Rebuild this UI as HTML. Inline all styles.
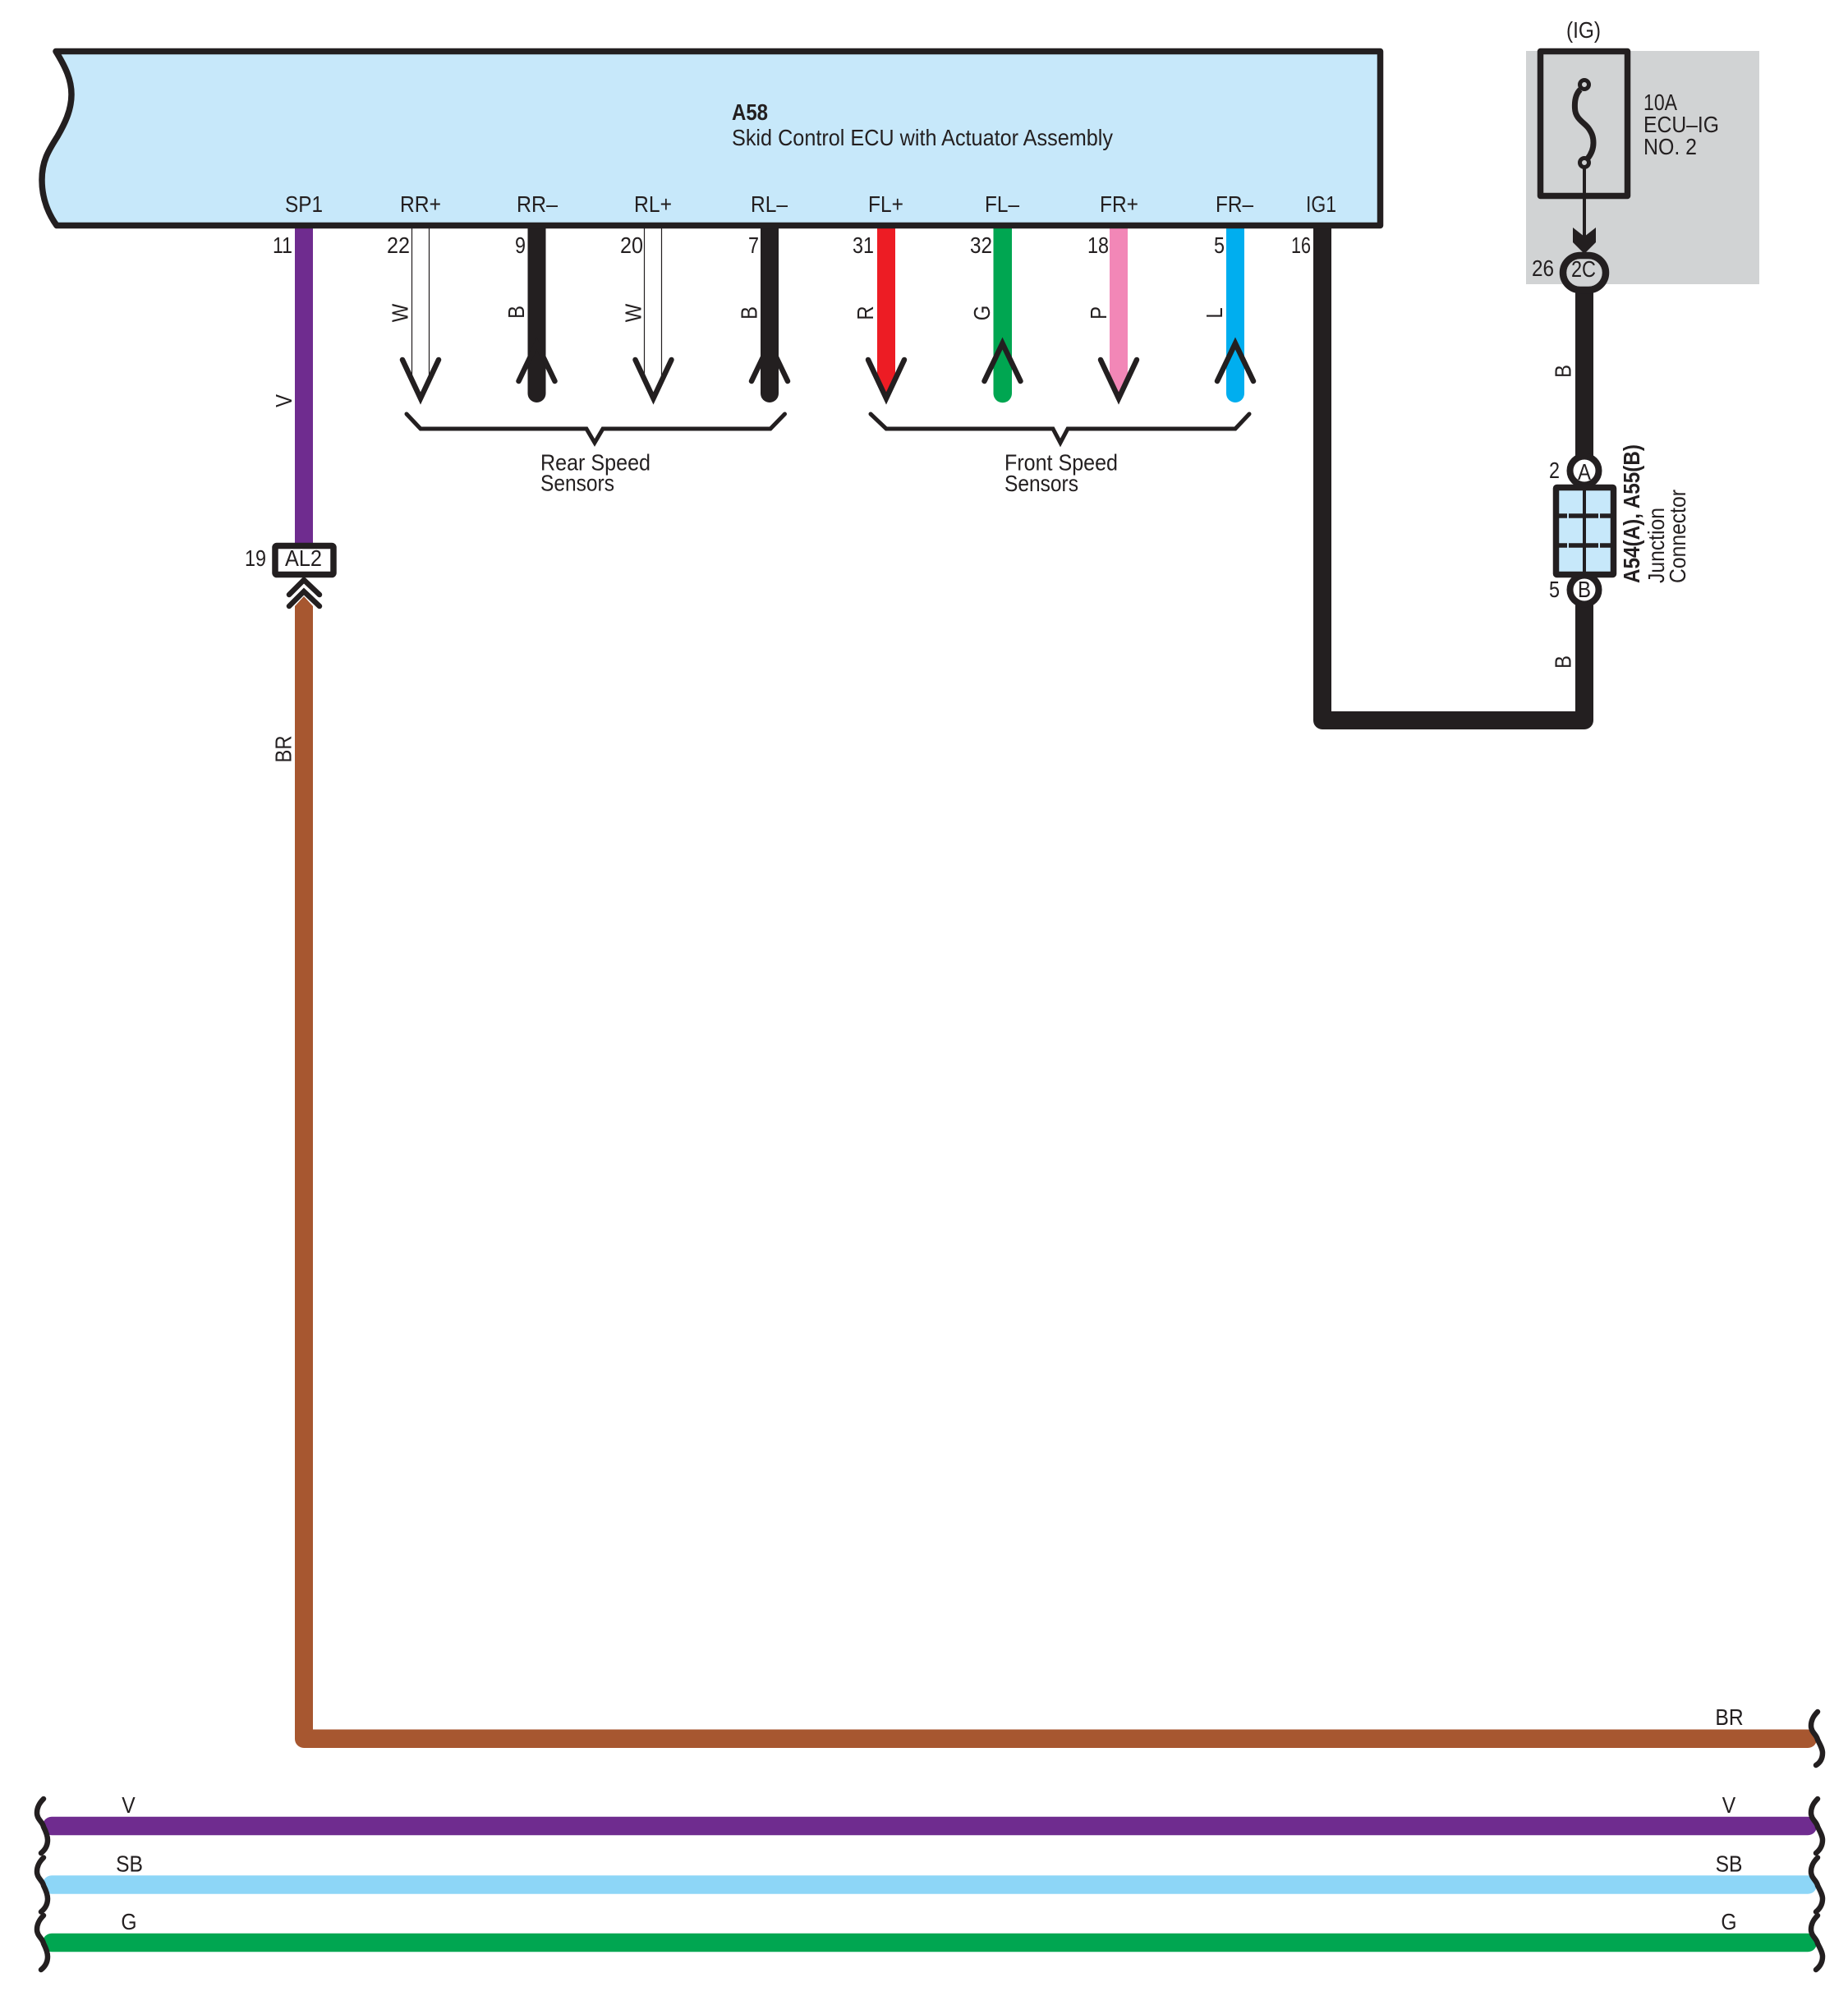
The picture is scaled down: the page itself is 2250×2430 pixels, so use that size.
<!DOCTYPE html>
<html>
<head>
<meta charset="utf-8">
<style>
html,body{margin:0;padding:0;background:#fff;}
svg{display:block;}
text{font-family:"Liberation Sans",sans-serif;font-size:28px;fill:#231f20;}
</style>
</head>
<body>
<svg xmlns="http://www.w3.org/2000/svg" width="2250" height="2430" viewBox="0 0 2250 2430">
<rect width="2250" height="2430" fill="#fff"/>
<rect x="1858" y="62" width="284" height="284" fill="#d1d3d4"/>

<!-- top wires -->
<g stroke="none">
<rect x="359" y="270" width="22" height="391" fill="#6f2c8f"/>
<path d="M642.5 270H664.5V479A11 11 0 0 1 642.5 479Z" fill="#231f20"/>
<path d="M926 270H948V479A11 11 0 0 1 926 479Z" fill="#231f20"/>
<path d="M1068 270H1090V463L1079 486L1068 463Z" fill="#ed1c24"/>
<path d="M1209.5 270H1232V479A11 11 0 0 1 1209.5 479Z" fill="#00a651"/>
<path d="M1351 270H1373V463L1362 486L1351 463Z" fill="#f287b7"/>
<path d="M1493 270H1515V479A11 11 0 0 1 1493 479Z" fill="#00aeef"/>
</g>
<g stroke="#231f20" stroke-width="1.2" fill="none">
<path d="M501.5 270V460M522.5 270V460M784.5 270V460M805.5 270V460"/>
</g>

<!-- black IG wire -->
<path d="M1610 270V877H1929V340" fill="none" stroke="#231f20" stroke-width="22" stroke-linejoin="round"/>

<!-- ECU -->
<path d="M68 62.5H1680.5V274.5H69C60 262 51 243 51 219C51 195 60 182 70 166C78 152 87 135 87 115C87 97 80 82 68 62.5Z" fill="#c7e8fa" stroke="#231f20" stroke-width="7.5" stroke-linejoin="round"/>

<!-- arrowheads -->
<g fill="none" stroke="#231f20" stroke-width="6.5" stroke-linecap="round" stroke-linejoin="miter" stroke-miterlimit="4">
<path d="M490 438L512 485L534 438"/>
<path d="M773.5 438L795.5 485L817.5 438"/>
<path d="M1057 438L1079 485L1101 438"/>
<path d="M1340 438L1362 485L1384 438"/>
<path d="M631.5 464L653.5 418L675.5 464"/>
<path d="M915 464L937 418L959 464"/>
<path d="M1198.5 464L1220.5 418L1242.5 464"/>
<path d="M1482 464L1504 418L1526 464"/>
</g>

<!-- braces -->
<g fill="none" stroke="#231f20" stroke-width="5" stroke-linecap="round" stroke-linejoin="miter" stroke-miterlimit="10">
<path d="M495 504L512 522H714L724 539L734 522H938L955.5 504"/>
<path d="M1060 504L1079 522H1282L1291 539L1300 522H1504L1521 504"/>
</g>

<!-- bottom wires -->
<path d="M359 738L370 726L381 738V2105.5H2201A11 11 0 0 1 2201 2128H370A11 11 0 0 1 359 2117Z" fill="#a75730"/>
<g fill="none" stroke-width="22.5" stroke-linecap="round">
<path d="M63 2223H2201" stroke="#6f2c8f"/>
<path d="M63 2294.5H2201" stroke="#8dd6f7"/>
<path d="M63 2365H2201" stroke="#00a651"/>
</g>

<!-- squiggles -->
<g fill="none" stroke="#231f20" stroke-width="6.5" stroke-linecap="round">
<path d="M53 2190C47 2196 45 2201 45 2207C45 2215 52 2218 53 2224C56 2230 58 2235 58 2240C58 2247 55 2252 50 2256"/>
<path d="M53 2261.5C47 2267.5 45 2272.5 45 2278.5C45 2286.5 52 2289.5 53 2295.5C56 2301.5 58 2306.5 58 2311.5C58 2318.5 55 2323.5 50 2327.5"/>
<path d="M53 2332C47 2338 45 2343 45 2349C45 2357 52 2360 53 2366C56 2372 58 2377 58 2382C58 2389 55 2394 50 2398"/>
<path d="M2213 2084C2207 2090 2205 2095 2205 2101C2205 2109 2212 2112 2213 2118C2216 2124 2219 2129 2219 2134C2219 2141 2216 2146 2211 2149"/>
<path d="M2213 2190C2207 2196 2205 2201 2205 2207C2205 2215 2212 2218 2213 2224C2216 2230 2219 2235 2219 2240C2219 2247 2216 2252 2211 2256"/>
<path d="M2213 2261.5C2207 2267.5 2205 2272.5 2205 2278.5C2205 2286.5 2212 2289.5 2213 2295.5C2216 2301.5 2219 2306.5 2219 2311.5C2219 2318.5 2216 2323.5 2211 2327.5"/>
<path d="M2213 2332C2207 2338 2205 2343 2205 2349C2205 2357 2212 2360 2213 2366C2216 2372 2219 2377 2219 2382C2219 2389 2216 2394 2211 2398"/>
</g>

<!-- AL2 -->
<rect x="335" y="664.5" width="71" height="35" rx="2" fill="#fff" stroke="#231f20" stroke-width="7.5"/>
<g fill="none" stroke="#231f20" stroke-width="6.5" stroke-linecap="round">
<path d="M352 724L370 706L389 724"/>
<path d="M352 738L370 720L389 738"/>
</g>

<!-- fuse -->
<rect x="1875.5" y="62.5" width="106" height="176" fill="none" stroke="#231f20" stroke-width="7.5" stroke-linejoin="round"/>
<path d="M1924 109C1918 115 1917 124 1917.5 132C1918 145 1929 149 1934 156C1939 163 1940 168 1940 174C1940 182 1937 188 1933 193" fill="none" stroke="#231f20" stroke-width="7"/>
<circle cx="1929" cy="103" r="5.5" fill="#d1d3d4" stroke="#231f20" stroke-width="5"/>
<circle cx="1929" cy="198" r="5.5" fill="#d1d3d4" stroke="#231f20" stroke-width="5"/>
<path d="M1929 204V290" stroke="#231f20" stroke-width="4" fill="none"/>
<path d="M1915 277L1929 288L1943 277V295L1929 309L1915 295Z" fill="#231f20"/>
<rect x="1903" y="311" width="52" height="42" rx="21" fill="#d1d3d4" stroke="#231f20" stroke-width="8.5"/>

<!-- junction connector -->
<circle cx="1929" cy="573" r="17.5" fill="#fff" stroke="#231f20" stroke-width="8"/>
<circle cx="1929" cy="718" r="17.5" fill="#fff" stroke="#231f20" stroke-width="8"/>
<rect x="1894.5" y="593.5" width="70" height="106" rx="1" fill="#c7e8fa" stroke="#231f20" stroke-width="7.5" stroke-linejoin="round"/>
<path d="M1929 593V700" stroke="#231f20" stroke-width="4" fill="none"/>
<g stroke="#231f20" stroke-width="5.5" fill="none">
<path d="M1896 628H1908M1910 628H1946M1948 628H1964"/>
<path d="M1896 664H1908M1910 664H1946M1948 664H1964"/>
</g>

<!-- ECU text -->
<text x="891" y="146" textLength="44" lengthAdjust="spacingAndGlyphs" style="font-weight:bold">A58</text>
<text x="891" y="177" textLength="464" lengthAdjust="spacingAndGlyphs">Skid Control ECU with Actuator Assembly</text>

<!-- pin names -->
<g>
<text x="347" y="258" textLength="46" lengthAdjust="spacingAndGlyphs">SP1</text>
<text x="487" y="258" textLength="50" lengthAdjust="spacingAndGlyphs">RR+</text>
<text x="629" y="258" textLength="50" lengthAdjust="spacingAndGlyphs">RR–</text>
<text x="772" y="258" textLength="46" lengthAdjust="spacingAndGlyphs">RL+</text>
<text x="914" y="258" textLength="45" lengthAdjust="spacingAndGlyphs">RL–</text>
<text x="1057" y="258" textLength="43" lengthAdjust="spacingAndGlyphs">FL+</text>
<text x="1199" y="258" textLength="42" lengthAdjust="spacingAndGlyphs">FL–</text>
<text x="1339" y="258" textLength="47" lengthAdjust="spacingAndGlyphs">FR+</text>
<text x="1480" y="258" textLength="46" lengthAdjust="spacingAndGlyphs">FR–</text>
<text x="1590" y="258" textLength="37" lengthAdjust="spacingAndGlyphs">IG1</text>
</g>

<!-- pin numbers -->
<g>
<text x="332" y="308" textLength="24" lengthAdjust="spacingAndGlyphs">11</text>
<text x="471" y="308" textLength="28" lengthAdjust="spacingAndGlyphs">22</text>
<text x="627" y="308" textLength="13" lengthAdjust="spacingAndGlyphs">9</text>
<text x="755" y="308" textLength="28" lengthAdjust="spacingAndGlyphs">20</text>
<text x="911" y="308" textLength="13" lengthAdjust="spacingAndGlyphs">7</text>
<text x="1038" y="308" textLength="26" lengthAdjust="spacingAndGlyphs">31</text>
<text x="1181" y="308" textLength="27" lengthAdjust="spacingAndGlyphs">32</text>
<text x="1324" y="308" textLength="26" lengthAdjust="spacingAndGlyphs">18</text>
<text x="1478" y="308" textLength="13" lengthAdjust="spacingAndGlyphs">5</text>
<text x="1572" y="308" textLength="24" lengthAdjust="spacingAndGlyphs">16</text>
<text x="298" y="689" textLength="26" lengthAdjust="spacingAndGlyphs">19</text>
<text x="347" y="689" textLength="45" lengthAdjust="spacingAndGlyphs">AL2</text>
<text x="1865" y="336" textLength="27" lengthAdjust="spacingAndGlyphs">26</text>
<text x="1913" y="337" textLength="30" lengthAdjust="spacingAndGlyphs">2C</text>
<text x="1886" y="582" textLength="13" lengthAdjust="spacingAndGlyphs">2</text>
<text x="1886" y="727" textLength="13" lengthAdjust="spacingAndGlyphs">5</text>
<text x="1921" y="584" textLength="16" lengthAdjust="spacingAndGlyphs">A</text>
<text x="1921" y="727" textLength="16" lengthAdjust="spacingAndGlyphs">B</text>
</g>

<!-- rotated colour labels -->
<g text-anchor="middle">
<text transform="translate(355 488) rotate(-90) scale(.85 1)">V</text>
<text transform="translate(496.5 381) rotate(-90) scale(.85 1)">W</text>
<text transform="translate(638 380) rotate(-90) scale(.85 1)">B</text>
<text transform="translate(780.5 381) rotate(-90) scale(.85 1)">W</text>
<text transform="translate(921.5 381) rotate(-90) scale(.85 1)">B</text>
<text transform="translate(1063 381) rotate(-90) scale(.85 1)">R</text>
<text transform="translate(1205 381) rotate(-90) scale(.85 1)">G</text>
<text transform="translate(1347 381) rotate(-90) scale(.85 1)">P</text>
<text transform="translate(1488 381) rotate(-90) scale(.85 1)">L</text>
<text transform="translate(354.5 912) rotate(-90) scale(.85 1)">BR</text>
<text transform="translate(1912.5 452) rotate(-90) scale(.85 1)">B</text>
<text transform="translate(1912.5 806) rotate(-90) scale(.85 1)">B</text>
</g>

<!-- bottom colour labels -->
<g text-anchor="middle">
<text transform="translate(2105.5 2100) scale(.88 1)">BR</text>
<text transform="translate(156.5 2207) scale(.88 1)">V</text>
<text transform="translate(157.5 2278.5) scale(.88 1)">SB</text>
<text transform="translate(157 2349) scale(.88 1)">G</text>
<text transform="translate(2105 2207) scale(.88 1)">V</text>
<text transform="translate(2105 2278.5) scale(.88 1)">SB</text>
<text transform="translate(2105 2349) scale(.88 1)">G</text>
</g>

<!-- sensors -->
<text x="658" y="572.5" textLength="134" lengthAdjust="spacingAndGlyphs">Rear Speed</text>
<text x="658" y="597.5" textLength="90" lengthAdjust="spacingAndGlyphs">Sensors</text>
<text x="1223" y="572.5" textLength="138" lengthAdjust="spacingAndGlyphs">Front Speed</text>
<text x="1223" y="598" textLength="90" lengthAdjust="spacingAndGlyphs">Sensors</text>

<!-- fuse text -->
<text x="1907" y="46" textLength="42" lengthAdjust="spacingAndGlyphs">(IG)</text>
<text x="2001" y="134" textLength="41" lengthAdjust="spacingAndGlyphs">10A</text>
<text x="2001" y="161" textLength="92" lengthAdjust="spacingAndGlyphs">ECU–IG</text>
<text x="2001" y="188" textLength="65" lengthAdjust="spacingAndGlyphs">NO. 2</text>

<!-- junction text -->
<text transform="translate(1996 710) rotate(-90)" textLength="169" lengthAdjust="spacingAndGlyphs" style="font-weight:bold">A54(A), A55(B)</text>
<text transform="translate(2026 710) rotate(-90)" textLength="92" lengthAdjust="spacingAndGlyphs">Junction</text>
<text transform="translate(2052 710) rotate(-90)" textLength="114" lengthAdjust="spacingAndGlyphs">Connector</text>
</svg>
</body>
</html>
